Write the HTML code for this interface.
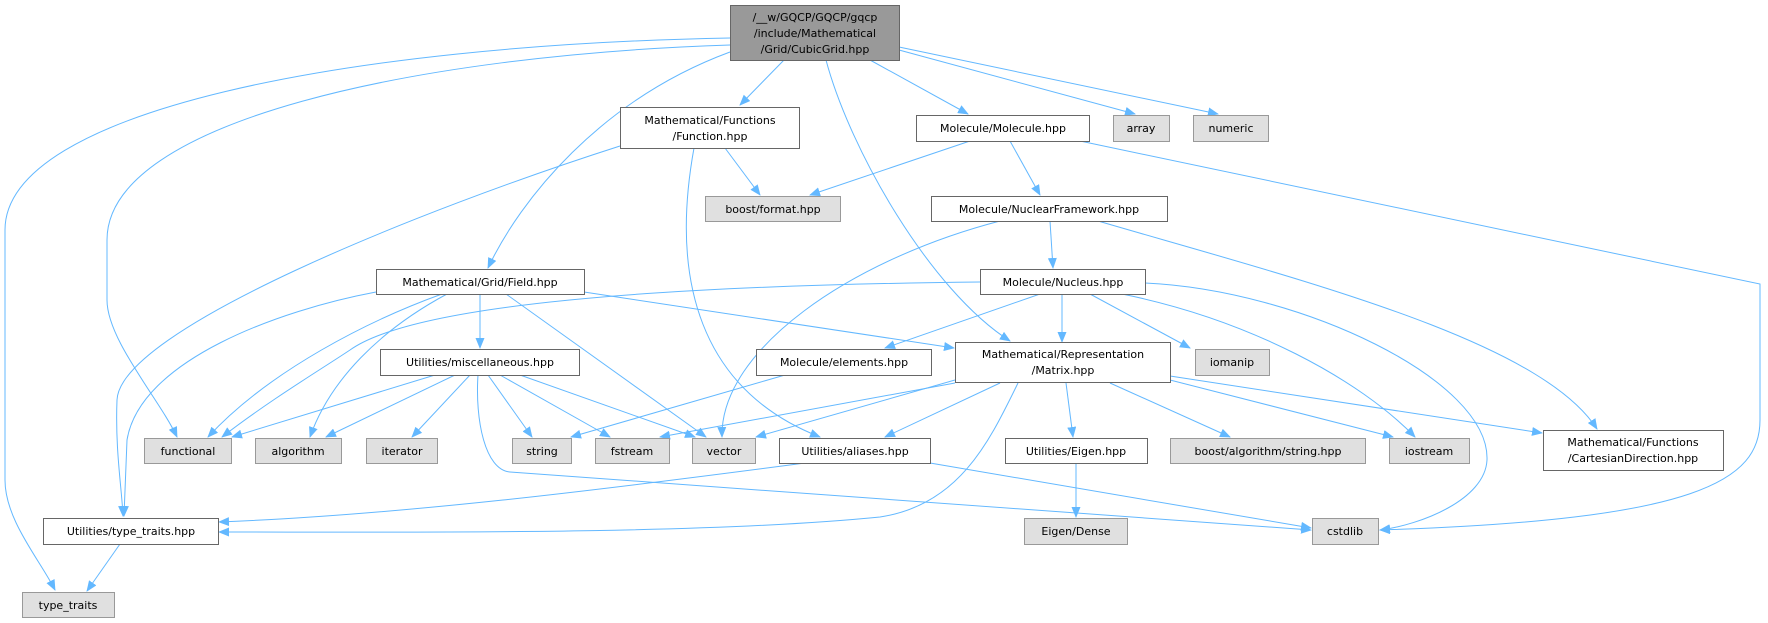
<!DOCTYPE html>
<html><head><meta charset="utf-8"><style>
html,body{margin:0;padding:0;background:#fff;}
svg{display:block;}
text{font-family:"DejaVu Sans","Liberation Sans",sans-serif;font-size:11px;fill:#000;}
.w{fill:#fff;stroke:#666;stroke-width:1;}
.g{fill:#e0e0e0;stroke:#999;stroke-width:1;}
.m{fill:#999;stroke:#666;stroke-width:1;}
path.e{fill:none;stroke:#63b8ff;stroke-width:1;marker-end:url(#a);}
</style></head><body>
<svg width="1768" height="623" viewBox="0 0 1768 623" xmlns="http://www.w3.org/2000/svg">
<defs><marker id="a" markerWidth="11" markerHeight="9" refX="10" refY="4.5" orient="auto" markerUnits="userSpaceOnUse"><path d="M0,0 L11,4.5 L0,9 z" fill="#63b8ff"/></marker></defs>
<g>
<path class="e" d="M730,38 C350,45 5,110 5,230 L5,480 C5,520 40,560 55,590"/>
<path class="e" d="M730,45 C420,55 107,120 107,240 L107,300 C107,340 160,400 177,437"/>
<path class="e" d="M730,52 C600,100 520,200 488,268"/>
<path class="e" d="M784,60 L740,105"/>
<path class="e" d="M826,60 C850,150 930,290 1010,341"/>
<path class="e" d="M870,60 L968,114"/>
<path class="e" d="M899,50 L1135,114"/>
<path class="e" d="M899,47 L1218,114"/>
<path class="e" d="M725,148 L760,195"/>
<path class="e" d="M620,146 C420,210 120,330 117,400 C115,450 122,490 123,516"/>
<path class="e" d="M694,148 C670,280 700,390 820,437"/>
<path class="e" d="M970,141 L810,195"/>
<path class="e" d="M1010,141 L1040,195"/>
<path class="e" d="M1080,141 L1760,284 L1760,420 C1760,480 1700,520 1380,530"/>
<path class="e" d="M1000,221 C850,260 720,350 722,437"/>
<path class="e" d="M1050,221 L1053,268"/>
<path class="e" d="M1098,221 C1300,280 1540,340 1597,429"/>
<path class="e" d="M980,282 C700,285 420,300 350,350 C320,370 270,400 222,437"/>
<path class="e" d="M1040,294 L885,348"/>
<path class="e" d="M1062,294 L1062,342"/>
<path class="e" d="M1090,294 L1190,348"/>
<path class="e" d="M1122,294 C1250,320 1360,380 1415,437"/>
<path class="e" d="M1145,283 C1300,290 1490,380 1487,460 C1485,500 1420,525 1380,530"/>
<path class="e" d="M376,292 C280,310 140,360 127,440 L124,516"/>
<path class="e" d="M442,294 C370,320 270,370 208,437"/>
<path class="e" d="M447,294 C380,330 330,380 310,437"/>
<path class="e" d="M480,294 L480,348"/>
<path class="e" d="M506,294 L706,437"/>
<path class="e" d="M584,292 L954,348"/>
<path class="e" d="M435,375 L232,437"/>
<path class="e" d="M455,375 L326,437"/>
<path class="e" d="M470,375 L412,437"/>
<path class="e" d="M488,375 L532,437"/>
<path class="e" d="M500,375 L610,437"/>
<path class="e" d="M520,375 L695,437"/>
<path class="e" d="M478,375 C475,420 485,470 510,472 L1311,530"/>
<path class="e" d="M785,375 L571,437"/>
<path class="e" d="M955,383 L660,437"/>
<path class="e" d="M955,380 L756,437"/>
<path class="e" d="M1000,383 L885,437"/>
<path class="e" d="M1018,383 C990,440 960,505 880,517 C700,535 400,532 219,532"/>
<path class="e" d="M805,463 C600,490 400,515 219,522"/>
<path class="e" d="M930,463 L1311,528"/>
<path class="e" d="M1066,383 L1073,437"/>
<path class="e" d="M1110,383 L1230,437"/>
<path class="e" d="M1170,380 L1393,437"/>
<path class="e" d="M1170,376 L1542,433"/>
<path class="e" d="M1076,463 L1076,517"/>
<path class="e" d="M120,544 L87,591"/>
</g>
<g>
<rect class="m" x="730.5" y="5.5" width="169" height="55"/>
<text x="815" y="21" text-anchor="middle">/__w/GQCP/GQCP/gqcp</text>
<text x="815" y="37" text-anchor="middle">/include/Mathematical</text>
<text x="815" y="53" text-anchor="middle">/Grid/CubicGrid.hpp</text>

<rect class="w" x="620.5" y="107.5" width="179" height="41"/>
<text x="710" y="124" text-anchor="middle">Mathematical/Functions</text>
<text x="710" y="140" text-anchor="middle">/Function.hpp</text>

<rect class="w" x="916.5" y="115.5" width="173" height="26"/>
<text x="1003" y="132" text-anchor="middle">Molecule/Molecule.hpp</text>
<rect class="g" x="1113.5" y="115.5" width="56" height="26"/>
<text x="1141" y="132" text-anchor="middle">array</text>
<rect class="g" x="1193.5" y="115.5" width="75" height="26"/>
<text x="1231" y="132" text-anchor="middle">numeric</text>

<rect class="g" x="705.5" y="196.5" width="135" height="25"/>
<text x="773" y="213" text-anchor="middle">boost/format.hpp</text>
<rect class="w" x="931.5" y="196.5" width="236" height="25"/>
<text x="1049" y="213" text-anchor="middle">Molecule/NuclearFramework.hpp</text>

<rect class="w" x="376.5" y="269.5" width="208" height="25"/>
<text x="480" y="286" text-anchor="middle">Mathematical/Grid/Field.hpp</text>
<rect class="w" x="980.5" y="269.5" width="165" height="25"/>
<text x="1063" y="286" text-anchor="middle">Molecule/Nucleus.hpp</text>

<rect class="w" x="380.5" y="349.5" width="199" height="26"/>
<text x="480" y="366" text-anchor="middle">Utilities/miscellaneous.hpp</text>
<rect class="w" x="756.5" y="349.5" width="175" height="26"/>
<text x="844" y="366" text-anchor="middle">Molecule/elements.hpp</text>
<rect class="w" x="955.5" y="342.5" width="215" height="40"/>
<text x="1063" y="358" text-anchor="middle">Mathematical/Representation</text>
<text x="1063" y="374" text-anchor="middle">/Matrix.hpp</text>
<rect class="g" x="1195.5" y="349.5" width="74" height="26"/>
<text x="1232" y="366" text-anchor="middle">iomanip</text>

<rect class="g" x="144.5" y="438.5" width="87" height="25"/>
<text x="188" y="455" text-anchor="middle">functional</text>
<rect class="g" x="255.5" y="438.5" width="86" height="25"/>
<text x="298" y="455" text-anchor="middle">algorithm</text>
<rect class="g" x="366.5" y="438.5" width="71" height="25"/>
<text x="402" y="455" text-anchor="middle">iterator</text>
<rect class="g" x="512.5" y="438.5" width="59" height="25"/>
<text x="542" y="455" text-anchor="middle">string</text>
<rect class="g" x="595.5" y="438.5" width="74" height="25"/>
<text x="632" y="455" text-anchor="middle">fstream</text>
<rect class="g" x="692.5" y="438.5" width="63" height="25"/>
<text x="724" y="455" text-anchor="middle">vector</text>
<rect class="w" x="779.5" y="438.5" width="151" height="25"/>
<text x="855" y="455" text-anchor="middle">Utilities/aliases.hpp</text>
<rect class="w" x="1005.5" y="438.5" width="142" height="25"/>
<text x="1076" y="455" text-anchor="middle">Utilities/Eigen.hpp</text>
<rect class="g" x="1170.5" y="438.5" width="195" height="25"/>
<text x="1268" y="455" text-anchor="middle">boost/algorithm/string.hpp</text>
<rect class="g" x="1389.5" y="438.5" width="80" height="25"/>
<text x="1429" y="455" text-anchor="middle">iostream</text>
<rect class="w" x="1543.5" y="430.5" width="180" height="40"/>
<text x="1633" y="446" text-anchor="middle">Mathematical/Functions</text>
<text x="1633" y="462" text-anchor="middle">/CartesianDirection.hpp</text>

<rect class="w" x="43.5" y="518.5" width="175" height="26"/>
<text x="131" y="535" text-anchor="middle">Utilities/type_traits.hpp</text>
<rect class="g" x="1024.5" y="518.5" width="103" height="26"/>
<text x="1076" y="535" text-anchor="middle">Eigen/Dense</text>
<rect class="g" x="1312.5" y="518.5" width="66" height="26"/>
<text x="1345" y="535" text-anchor="middle">cstdlib</text>
<rect class="g" x="22.5" y="592.5" width="92" height="25"/>
<text x="68" y="609" text-anchor="middle">type_traits</text>
</g>
</svg>
</body></html>
